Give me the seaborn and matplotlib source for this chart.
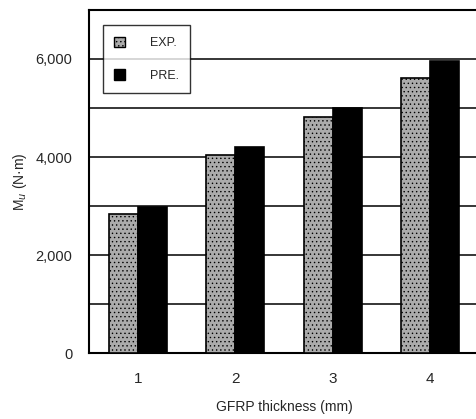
import matplotlib
matplotlib.use('Agg')
import pandas as pd
import numpy as np
import matplotlib.pyplot as plt
import seaborn as sns
from matplotlib.patches import Patch

thickness = ['1', '2', '3', '4']
exp_vals = [2840, 4050, 4820, 5610]
pre_vals = [2980, 4200, 5000, 5960]
series_names = ['EXP.', 'PRE.']
y_ticks = [0, 2000, 4000, 6000]
y_tick_labels = ['0', '2,000', '4,000', '6,000']

sns.set_style("white")
plt.rcParams['font.family'] = ['Liberation Sans', 'DejaVu Sans']
plt.rcParams['hatch.color'] = '#666666'
plt.rcParams['hatch.linewidth'] = 0.5

df = pd.DataFrame({
    'thickness': thickness * 2,
    'Mu': exp_vals + pre_vals,
    'series': [series_names[0]] * len(thickness) + [series_names[1]] * len(thickness),
})

fig = plt.figure(figsize=(4.76, 4.19), dpi=100)
ax = fig.add_axes([89 / 476, 66 / 419, 390 / 476, 343 / 419])

colors = {'EXP.': '#ababab', 'PRE.': '#000000'}
sns.barplot(data=df, x='thickness', y='Mu', hue='series', palette=colors,
            width=0.59, gap=0, edgecolor='black', linewidth=1.2,
            saturation=1, legend=False, ax=ax, zorder=3)

# speckled look on the experimental bars
for bar in ax.containers[0]:
    bar.set_hatch('....')

ax.set_ylim(0, 7000)
ax.set_xlim(-0.5, 3.5)
ax.set_yticks(y_ticks)
ax.set_yticklabels(y_tick_labels, fontsize=10.5)
ax.set_yticks([1000, 3000, 5000, 7000], minor=True)
ax.set_xticks(range(len(thickness)))
ax.set_xticklabels(thickness, fontsize=11)
ax.set_xticks([0.5, 1.5, 2.5], minor=True)
ax.tick_params(axis='x', which='major', length=0, pad=14)
ax.tick_params(axis='x', which='minor', direction='in', length=3, width=0.8)
ax.tick_params(axis='y', which='both', length=0, pad=12)

ax.grid(axis='y', which='both', color='black', linewidth=1.1, zorder=0)
ax.set_axisbelow(True)

for side in ['left', 'bottom', 'top']:
    ax.spines[side].set_color('black')
    ax.spines[side].set_linewidth(1.5)
ax.spines['right'].set_visible(False)

ax.set_xlabel('GFRP thickness (mm)', fontsize=10, labelpad=10)
ax.set_ylabel('M$_u$ (N·m)', fontsize=10, labelpad=5)

handles = [Patch(facecolor=colors['EXP.'], edgecolor='black', hatch='....', linewidth=1),
           Patch(facecolor=colors['PRE.'], edgecolor='black', linewidth=1)]
leg = ax.legend(handles, series_names, loc='upper left', bbox_to_anchor=(0.035, 0.955),
                fontsize=9, frameon=True, fancybox=False, edgecolor='black',
                handlelength=0.9, handleheight=0.9, handletextpad=2.0,
                labelspacing=1.6, borderpad=0.9, borderaxespad=0)
leg.get_frame().set_linewidth(1.0)
leg.set_zorder(5)

fig.savefig('out.png', dpi=100)
plt.close(fig)
